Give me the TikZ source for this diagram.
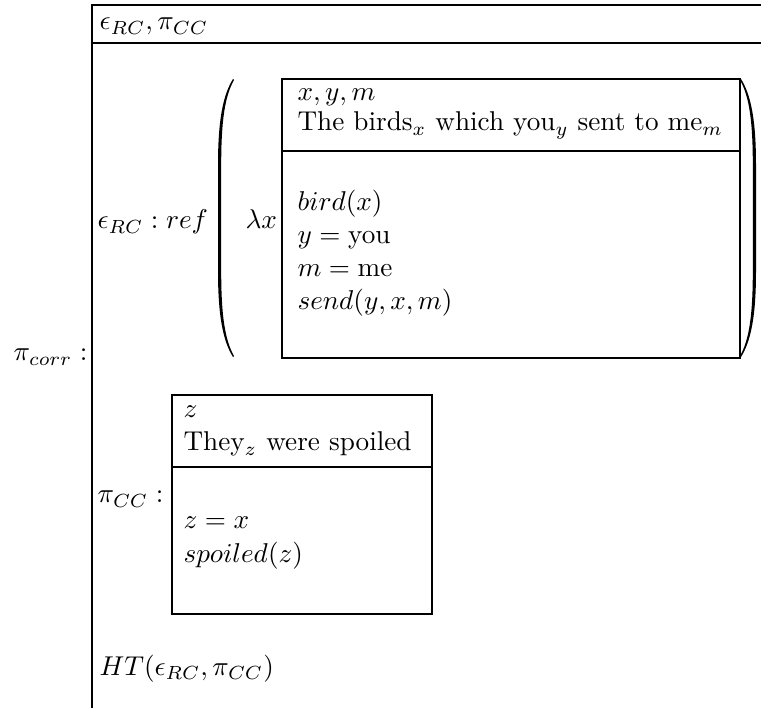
\documentclass[tikz,border=0pt]{standalone}
\begin{document}
\begin{tikzpicture}[x=1pt,y=-1pt,
  txt/.style={anchor=base west, inner sep=0pt, scale=2.72},
  frame/.style={line width=1.8pt},
  drsbox/.style={draw, line width=1.8pt, anchor=north west, inner sep=0pt, outer sep=0pt}]
\useasboundingbox (0,0) rectangle (761,708);
% outer frame
\coordinate (fTL) at (92,5);
\coordinate (fBL) at (92,708);
\coordinate (fTR) at (761,5);
\coordinate (sL) at (92,43);
\coordinate (sR) at (761,43);
\draw[frame] (fBL) -- (fTL) -- (fTR);
\draw[frame] (sL) -- (sR);
\node[txt] (top) at (99,30) {$\epsilon_{RC}, \pi_{CC}$};
\node[txt] (pcorr) at (13,361) {$\pi_{corr}:$};
% first sub-DRS
\node[txt] (eref) at (97,229) {$\epsilon_{RC}:ref$};
\node[txt] (lam) at (245,229) {$\lambda x$};
\node[drsbox, minimum width=458pt, minimum height=279pt] (box1) at (282,79) {};
\draw[frame] (282,151) coordinate (b1l) -- (740,151) coordinate (b1r);
\node[txt] (u1) at (297,101) {$x, y, m$};
\node[txt] (s1) at (297,131) {The birds$_x$ which you$_y$ sent to me$_m$};
\node[txt] (c1) at (297,211) {$bird(x)$};
\node[txt] (c2) at (297,244) {$y=\mbox{you}$};
\node[txt] (c3) at (297,277) {$m=\mbox{me}$};
\node[txt] (c4) at (297,310) {$send(y,x,m)$};
% parentheses
\fill (233,79) .. controls (223,95) and (218,120) .. (218,165) -- (218,271)
  .. controls (218,316) and (223,341) .. (233,357)
  -- (234,356) .. controls (225,340) and (221.2,316) .. (221.2,271) -- (221.2,165)
  .. controls (221.2,120) and (225,96) .. (234,80) -- cycle;
\fill (741,79) .. controls (751,95) and (756,120) .. (756,165) -- (756,271)
  .. controls (756,316) and (751,341) .. (741,357)
  -- (740,356) .. controls (749,340) and (752.8,316) .. (752.8,271) -- (752.8,165)
  .. controls (752.8,120) and (749,96) .. (740,80) -- cycle;
% second sub-DRS
\node[txt] (pcc) at (97,503) {$\pi_{CC}:$};
\node[drsbox, minimum width=260pt, minimum height=219pt] (box2) at (172,395) {};
\draw[frame] (172,467) coordinate (b2l) -- (432,467) coordinate (b2r);
\node[txt] (u2) at (183,418) {$z$};
\node[txt] (s2) at (183,451) {They$_z$ were spoiled};
\node[txt] (d1) at (183,529) {$z=x$};
\node[txt] (d2) at (183,562) {$spoiled(z)$};
\node[txt] (ht) at (99,675) {$HT(\epsilon_{RC},\pi_{CC})$};
\end{tikzpicture}
\end{document}
